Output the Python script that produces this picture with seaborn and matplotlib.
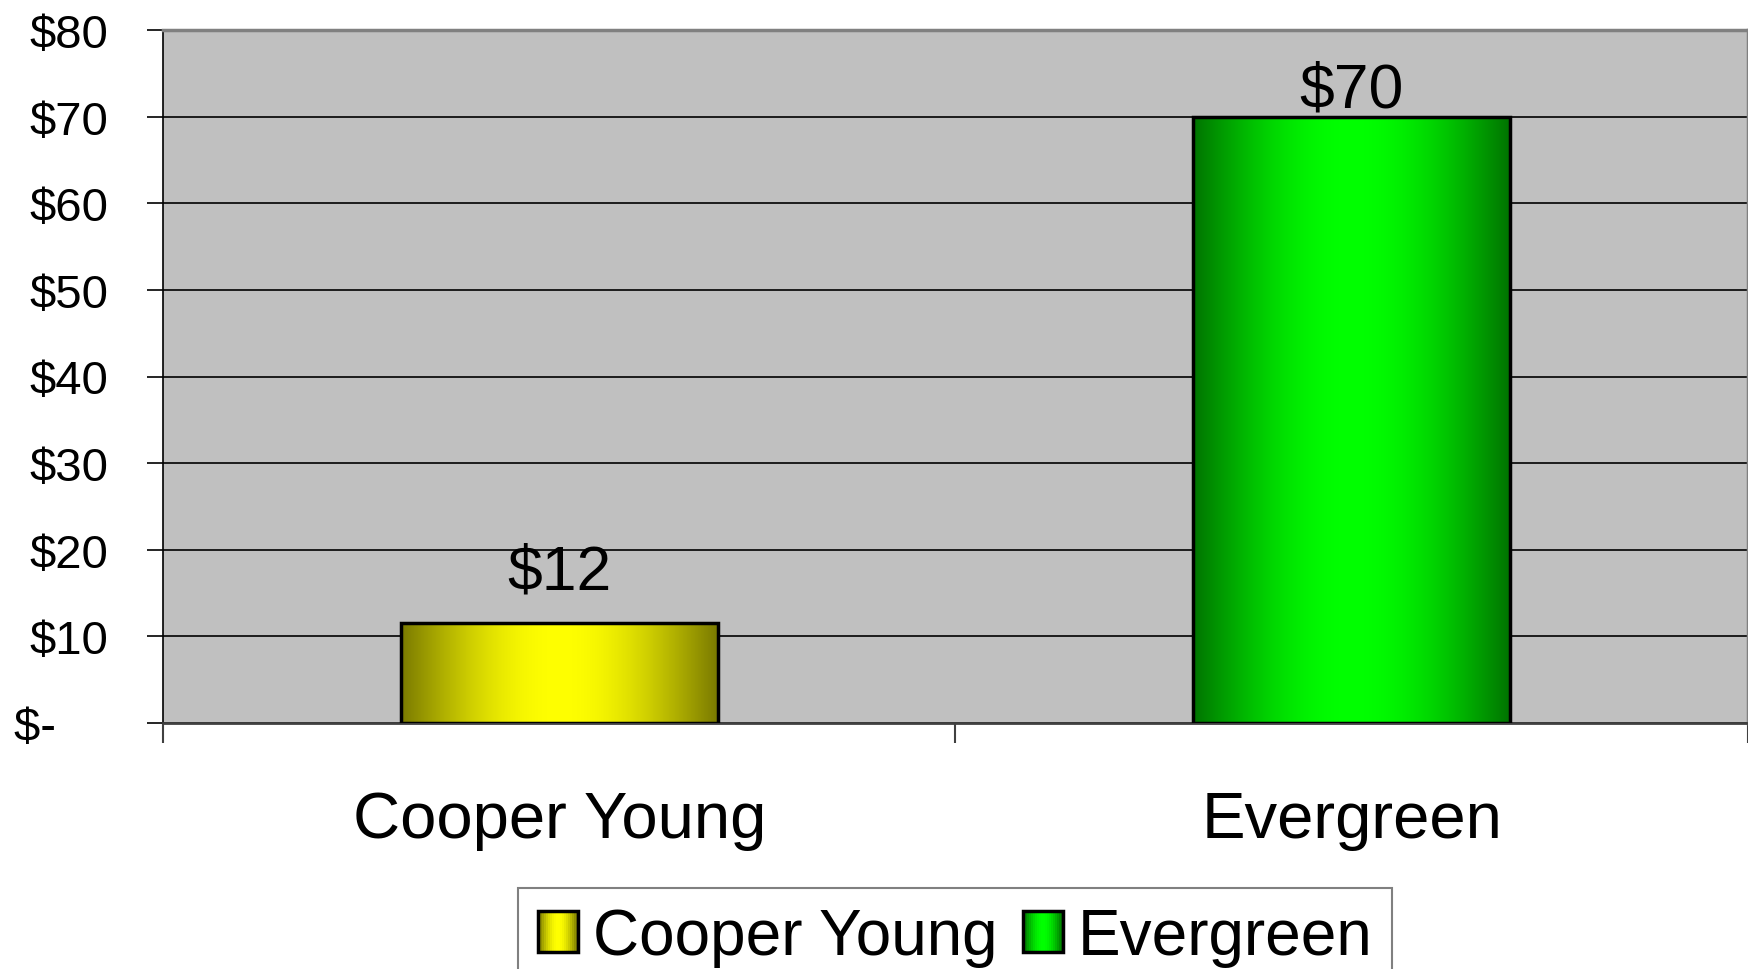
import numpy as np
import pandas as pd
import seaborn as sns
import matplotlib.pyplot as plt
from matplotlib.patches import Rectangle
from matplotlib.legend_handler import HandlerBase
from matplotlib.colors import to_rgb

# data
sites = ['Cooper Young', 'Evergreen']
costs = [11.6, 70.0]
cost_labels = ['$12', '$70']
y_ticks = [0, 10, 20, 30, 40, 50, 60, 70, 80]
y_tick_labels = ['$-    ', '$10', '$20', '$30', '$40', '$50', '$60', '$70', '$80']
dark_colors = ['#7a7a00', '#007400']
bright_colors = ['#ffff00', '#00ff00']

df = pd.DataFrame({'site': sites, 'cost': costs})

sns.set_style('ticks')
plt.rcParams['font.family'] = ['Liberation Sans', 'DejaVu Sans']
plt.rcParams['text.color'] = 'black'
plt.rcParams['xtick.labelcolor'] = 'black'
plt.rcParams['ytick.labelcolor'] = 'black'


def gradient_row(dark, bright, n=256):
    # dark at the edges, bright in the middle
    t = np.sin(np.linspace(0, np.pi, n))[None, :, None]
    d = np.array(to_rgb(dark))[None, None, :]
    b = np.array(to_rgb(bright))[None, None, :]
    return d + (b - d) * t


class GradientHandler(HandlerBase):
    def __init__(self, dark, bright, n=20):
        super().__init__()
        self.dark, self.bright, self.n = dark, bright, n

    def create_artists(self, legend, orig_handle, xdescent, ydescent,
                       width, height, fontsize, trans):
        cols = gradient_row(self.dark, self.bright, self.n)[0]
        arts = []
        w = width / self.n
        for i, c in enumerate(cols):
            arts.append(Rectangle((-xdescent + i * w, -ydescent), w * 1.05, height,
                                  facecolor=c, edgecolor='none', transform=trans))
        arts.append(Rectangle((-xdescent, -ydescent), width, height, facecolor='none',
                              edgecolor='black', linewidth=2.5, transform=trans))
        return arts


fig = plt.figure(figsize=(17.49, 9.70), dpi=100)
ax = fig.add_axes([163 / 1749, 1 - 724 / 970, 1585 / 1749, 693 / 970])
ax.set_facecolor('#c0c0c0')

sns.barplot(data=df, x='site', y='cost', hue='site', palette=bright_colors,
            width=0.4, saturation=1, edgecolor='black', linewidth=2.5,
            legend=True, ax=ax)

# horizontal gradient fill in each bar
for container, dark, bright in zip(ax.containers, dark_colors, bright_colors):
    for bar in container:
        x0, y0 = bar.get_x(), bar.get_y()
        w, h = bar.get_width(), bar.get_height()
        ax.imshow(gradient_row(dark, bright), extent=[x0, x0 + w, y0, y0 + h],
                  aspect='auto', interpolation='bilinear', zorder=3)
        bar.set_facecolor('none')
        bar.set_zorder(4)

for container, lab, pad in zip(ax.containers, cost_labels, [15, -2]):
    ax.bar_label(container, labels=[lab], padding=pad, fontsize=45, color='black')

ax.set_xlim(-0.5, 1.5)
ax.set_ylim(0, 80)
ax.set_yticks(y_ticks, y_tick_labels)
ax.set_xticks([0, 1], sites)
ax.set_xticks([-0.5, 0.5, 1.5], minor=True)
ax.set_xlabel('')
ax.set_ylabel('')
ax.yaxis.grid(True, color='black', linewidth=1.2)
ax.set_axisbelow(True)

ax.tick_params(axis='y', length=11.5, width=1.2, color='black', pad=28, labelsize=34)
ax.tick_params(axis='x', which='major', length=0, pad=48, labelsize=47)
ax.tick_params(axis='x', which='minor', length=14.4, width=1.5, color='#404040')

ax.spines['left'].set_color('black')
ax.spines['left'].set_linewidth(1.2)
ax.spines['bottom'].set_color('#404040')
ax.spines['bottom'].set_linewidth(2)
for s in ['top', 'right']:
    ax.spines[s].set_color('#808080')
    ax.spines[s].set_linewidth(2.5)

handles, labels = ax.get_legend_handles_labels()
ax.get_legend().remove()
hmap = {h: GradientHandler(d, b) for h, d, b in zip(handles, dark_colors, bright_colors)}
leg = fig.legend(handles, labels, loc='upper center', bbox_to_anchor=(955 / 1749, 1 - 889 / 970),
                 ncol=2, fontsize=46, frameon=True, fancybox=False, edgecolor='#808080',
                 handlelength=0.63, handleheight=0.6, handletextpad=0.23,
                 columnspacing=0.4, borderpad=0.3, borderaxespad=0, handler_map=hmap,
                 labelcolor='black')
leg.get_frame().set_linewidth(1.5)
leg.get_frame().set_alpha(1)

fig.savefig('out.png', dpi=100)
